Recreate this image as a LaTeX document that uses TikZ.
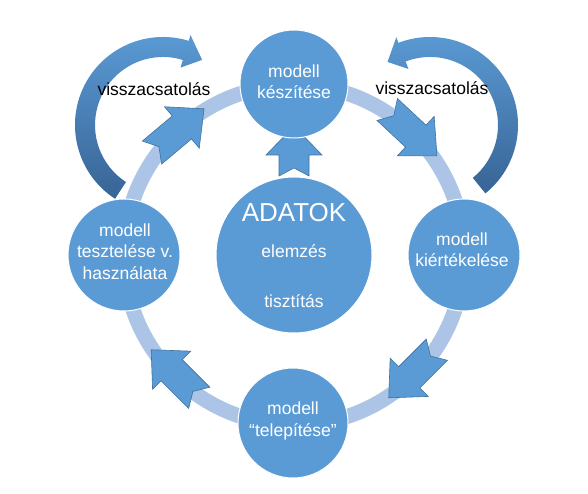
\documentclass[tikz,border=0pt]{standalone}
\usepackage{fontspec}
\setmainfont{Liberation Sans}
\usetikzlibrary{calc}
\definecolor{cfill}{RGB}{91,155,213}
\definecolor{cring}{RGB}{172,197,230}
\definecolor{cedge}{RGB}{65,113,156}
\definecolor{cdark}{RGB}{56,100,150}
\begin{document}
\begin{tikzpicture}[x=1pt,y=1pt,
  circ/.style={circle, fill=cfill, draw=white, line width=1pt, inner sep=0pt},
  ctext/.style={text=white, align=center, font=\fontsize{17.5}{21.5}\selectfont, inner sep=0pt},
  bigtext/.style={text=white, font=\fontsize{26}{30}\selectfont, inner sep=0pt},
  fbtext/.style={text=black, font=\fontsize{17.5}{21}\selectfont, inner sep=0pt},
  arrowfill/.style={fill=cfill, draw=cedge, line width=0.6pt, line join=miter},
  fbarrow/.style={top color=cfill, bottom color=cdark},
  ringarrow/.pic={\path[arrowfill] (34,0) -- (5,27) -- (5,15) -- (-34,15) -- (-25,0) -- (-34,-15) -- (5,-15) -- (5,-27) -- cycle;}
]
\useasboundingbox (0,0) rectangle (588,494);
\fill[white] (0,0) rectangle (588,494);
\coordinate (O) at (294,239);
% ring
\draw[cring, line width=15pt] (O) circle[radius=170];
% ring arrows
\pic[rotate=40] at ($(O)+(133:170)$) {ringarrow};
\pic[rotate=-43] at ($(O)+(46:170)$) {ringarrow};
\pic[rotate=-135] at ($(O)+(-45:168)$) {ringarrow};
\pic[rotate=135] at ($(O)+(-135:168)$) {ringarrow};
% center up arrow
\path[arrowfill] (294,368) -- (322,339) -- (309,339) -- (309,318) -- (294,326) -- (279,318) -- (279,339) -- (266,339) -- cycle;
% feedback arrows
\begin{scope}[shift={(163,369)}]
\shade[fbarrow] (237:88) arc[start angle=237,end angle=73,radius=88] -- (73:94) -- (59:76) -- (73:60) -- (73:68) arc[start angle=73,end angle=237,radius=68] -- cycle;
\end{scope}
\begin{scope}[shift={(430,369)}]
\shade[fbarrow] (-51:88) arc[start angle=-51,end angle=111,radius=88] -- (111:94) -- (124:76) -- (111:60) -- (111:68) arc[start angle=111,end angle=-51,radius=68] -- cycle;
\end{scope}
% circles
\node[circ, minimum size=108pt] (T) at (294,410) {};
\node[circ, minimum size=156pt] (D) at (294,239) {};
\node[circ, minimum size=112pt] (L) at (124,239) {};
\node[circ, minimum size=112pt] (R) at (464,239) {};
\node[circ, minimum size=110pt] (B) at (293,71) {};
% texts
\node[ctext] (Tt) at (294,412) {modell\\készítése};
\node[ctext] (Lt) at (125,242.5) {modell\\tesztelése v.\\használata};
\node[ctext] (Rt) at (462,244) {modell\\kiértékelése};
\node[ctext] (Bt) at (293,73) {modell\\“telepítése”};
\node[bigtext, anchor=base] (Dt) at (294,272) {ADATOK};
\node[ctext] (De) at (294,243) {elemzés};
\node[ctext] (Dc) at (294,193) {tisztítás};
\node[fbtext] (FL) at (154,405) {visszacsatolás};
\node[fbtext] (FR) at (432,406) {visszacsatolás};
\end{tikzpicture}
\end{document}
